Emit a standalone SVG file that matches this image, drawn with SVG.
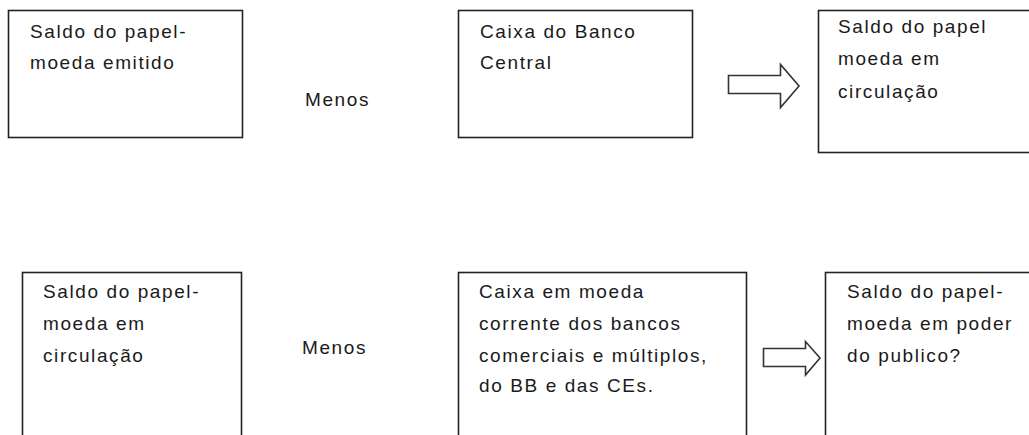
<svg xmlns="http://www.w3.org/2000/svg" width="1029" height="435" viewBox="0 0 1029 435">
<style>
.box{fill:#fff;stroke:#222;stroke-width:1.6}
.t{font-family:"Liberation Sans",Arial,sans-serif;font-size:19px;letter-spacing:1.6px;fill:#1a1a1a}
.arr{fill:#fff;stroke:#333;stroke-width:1.6;stroke-linejoin:miter}
</style>
<rect width="1029" height="435" fill="#fff"/>
<g id="n1"><rect class="box" x="8.5" y="10.5" width="234" height="127"/>
<text class="t" x="30" y="38">Saldo do papel-</text><text class="t" x="30" y="69">moeda emitido</text></g>
<g id="m1"><text class="t" x="305" y="106">Menos</text></g>
<g id="n2"><rect class="box" x="458.5" y="10.5" width="234" height="127"/>
<text class="t" x="480" y="38">Caixa do Banco</text><text class="t" x="480" y="69">Central</text></g>
<g id="n3"><rect class="box" x="818.5" y="10.5" width="220" height="142"/>
<text class="t" x="838" y="33">Saldo do papel</text><text class="t" x="838" y="65">moeda em</text><text class="t" x="838" y="98">circulação</text></g>
<g id="n4"><rect class="box" x="22.5" y="272.5" width="219" height="180"/>
<text class="t" x="43" y="298">Saldo do papel-</text><text class="t" x="43" y="330">moeda em</text><text class="t" x="43" y="362">circulação</text></g>
<g id="m2"><text class="t" x="302" y="354">Menos</text></g>
<g id="n5"><rect class="box" x="458.5" y="272.5" width="288" height="180"/>
<text class="t" x="479" y="298">Caixa em moeda</text><text class="t" x="479" y="330">corrente dos bancos</text><text class="t" x="479" y="362">comerciais e múltiplos,</text><text class="t" x="479" y="392">do BB e das CEs.</text></g>
<g id="n6"><rect class="box" x="825.5" y="272.5" width="220" height="180"/>
<text class="t" x="847" y="298">Saldo do papel-</text><text class="t" x="847" y="330">moeda em poder</text><text class="t" x="847" y="362">do publico?</text></g>
<g id="connectors">
<polygon class="arr" points="728.5,75.5 780.5,75.5 780.5,64.5 799,86 780.5,107.5 780.5,93.5 728.5,93.5"/>
<polygon class="arr" points="763.5,348.5 805.5,348.5 805.5,341.5 820,358 805.5,375 805.5,366.5 763.5,366.5"/>
</g>
</svg>
